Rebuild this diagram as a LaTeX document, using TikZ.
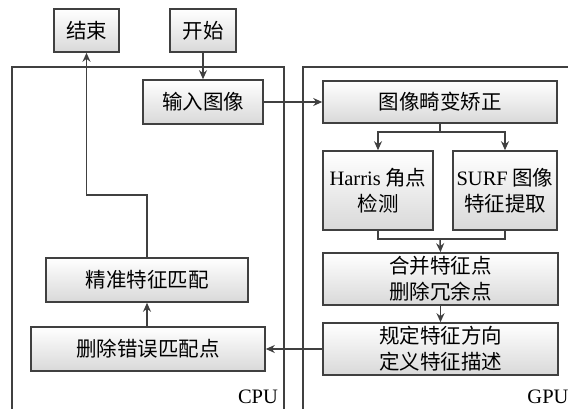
\documentclass[tikz,border=0pt]{standalone}
\usepackage{fontspec}
\setmainfont{Liberation Serif}
\newfontfamily\cjk{Noto Sans CJK SC}
\usetikzlibrary{arrows.meta,calc}
\tikzset{box/.style={draw=black!75,line width=1.6pt,top color=white,bottom color=black!15,align=center,inner sep=0pt,#1}}
\tikzset{box/.default={}}
\tikzset{arrow/.style={draw=black!75,line width=1.5pt,-{Stealth[length=9pt,width=8pt]}}}
\tikzset{line/.style={draw=black!75,line width=1.5pt}}
\tikzset{frame/.style={draw=black!75,line width=1.5pt}}
\tikzset{font={\fontsize{20.5pt}{26pt}\selectfont\cjk}}

\begin{document}
\begin{tikzpicture}[x=1pt,y=-1pt]
        \useasboundingbox (0,0) rectangle (568,409);
        % CPU / GPU frames
        \draw[frame] (12,409) -- (12,67) -- (284,67) -- (284,409);
        \draw[frame] (303,409) -- (303,67) -- (568,67);
        \node[anchor=center] (cpu) at (258,397) {\rmfamily CPU};
        \node[anchor=center] (gpu) at (548,397) {\rmfamily GPU};
        % boxes
        \node[box,minimum width=65pt,minimum height=43pt] (end) at (86.5,30.5) {结束};
        \node[box,minimum width=66pt,minimum height=43pt] (start) at (203,30.5) {开始};
        \node[box,minimum width=120pt,minimum height=44pt] (input) at (203,102) {输入图像};
        \node[box,minimum width=234pt,minimum height=42pt] (undist) at (440,102) {图像畸变矫正};
        \node[box,minimum width=110pt,minimum height=79pt] (harris) at (378,190.5) {{\rmfamily Harris} 角点\\检测};
        \node[box,minimum width=104pt,minimum height=79pt] (surf) at (505,190.5) {{\rmfamily SURF} 图像\\特征提取};
        \node[box,minimum width=235pt,minimum height=52pt] (merge) at (440.5,279) {合并特征点\\删除冗余点};
        \node[box,minimum width=235pt,minimum height=52pt] (desc) at (440.5,349) {规定特征方向\\定义特征描述};
        \node[box,minimum width=234pt,minimum height=44pt] (remove) at (148,349) {删除错误匹配点};
        \node[box,minimum width=202pt,minimum height=44pt] (match) at (147,280) {精准特征匹配};
        % connectors
        \coordinate (split) at ($(undist.south)+(0,8)$);
        \coordinate (join) at ($(undist.south |- harris.south)+(0,8)$);
        \coordinate (turn) at (0,195);
        \path[arrow] (start.south) -- (input.north);
        \path[arrow] (input.east) -- (undist.west);
        \path[line] (undist.south) -- (split);
        \path[arrow] (split) -| (harris.north);
        \path[arrow] (split) -| (surf.north);
        \path[line] (harris.south) |- (join) -| (surf.south);
        \path[arrow] (join) -- (merge.north);
        \path[arrow] (merge.south) -- (desc.north);
        \path[arrow] (desc.west) -- (remove.east);
        \path[arrow] (remove.north -| match.south) -- (match.south);
        \path[arrow] (match.north) -- (match.north |- turn) -| (end.south);
\end{tikzpicture}
\end{document}
